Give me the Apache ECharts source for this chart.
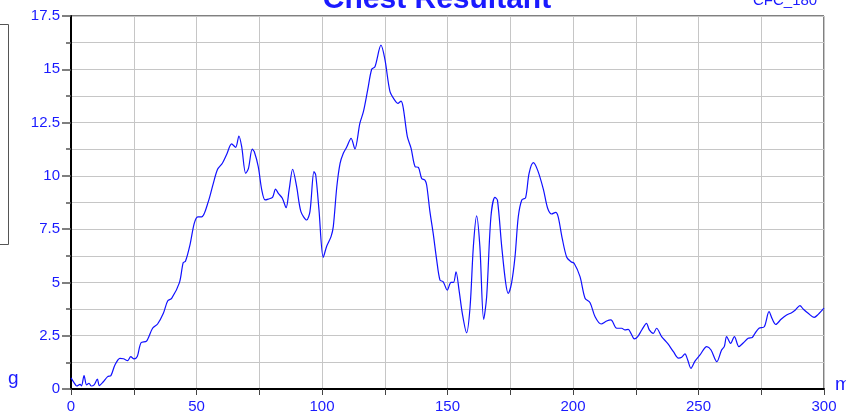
<!DOCTYPE html>
<html>
<head>
<meta charset="utf-8">
<script src="https://cdn.jsdelivr.net/npm/echarts@6/dist/echarts.min.js"></script>
<style>
  html, body { margin: 0; padding: 0; background: #fff; }
  #chestChart { width: 846px; height: 414px; }
</style>
</head>
<body>
<div id="chestChart"></div>
<script>
// time (ms) and chest resultant acceleration (g)
var timeMs = [0, 1.2, 2.3, 3.6, 4.2, 5.2, 6.2, 7.2, 8, 9.2, 10.5, 11.3, 12.9, 14.6, 15.9, 17.5, 19.5, 20.9, 22.6, 23.8,
  25.1, 26.4, 27.9, 30.1, 32.5, 34.5, 36.8, 38.5, 40.1, 43.2, 44.7, 45.6, 47.4, 49.1, 50.5, 52.1, 54.7, 56.7, 58.4, 60.3,
  62, 64, 65.6, 66.9, 68, 69.6, 70.7, 72.2, 73, 74.6, 76, 77.3, 78.6, 80.3, 81.5, 82.6, 84.2, 85.7, 86.9, 88.3,
  89.9, 91.6, 93.9, 95.2, 96.8, 97.5, 98.8, 100.5, 101.9, 103.6, 104.5, 105.9, 107.2, 108.5, 109.8, 111.6, 113.1, 115.1, 116.5, 118.2,
  119.8, 121.1, 123.5, 125.1, 127.1, 129.1, 130.2, 131.5, 132.4, 134, 135.5, 137.1, 138.4, 139.7, 141, 141.7, 143, 144.3, 145.7, 147,
  148.3, 149.9, 151.4, 152.4, 153.4, 154.6, 155.9, 157.6, 159, 160.3, 161.6, 162.9, 164.4, 165.6, 167.3, 168.9, 169.9, 171.6, 173.2, 174.2,
  175.5, 176.9, 178.2, 179.6, 181.1, 182.5, 184.2, 185.9, 188.2, 189.9, 191.5, 193.1, 194.1, 195.7, 197.5, 199.2, 200.5, 202.8, 204.8, 206.8,
  208.8, 211.2, 213.4, 215.1, 217.4, 219.4, 220.7, 222, 223.1, 224.4, 225.8, 227.4, 229.3, 230.4, 232, 233.3, 235.3, 237.7, 240, 242,
  243.3, 244.6, 245.7, 247, 248.6, 250.6, 253.3, 255, 257.3, 259.2, 260.3, 261.2, 262.8, 264.3, 266.1, 267.9, 269.8, 271.4, 272.5, 274.1,
  276.2, 278.1, 279.4, 280.8, 282.9, 285.1, 287.1, 288.7, 290.4, 291.8, 293.7, 296.1, 297.7, 300];
var accelG = [0.52, 0.3, 0.14, 0.22, 0.15, 0.63, 0.19, 0.27, 0.14, 0.19, 0.46, 0.16, 0.34, 0.58, 0.63, 1.13, 1.44, 1.42, 1.33, 1.52,
  1.41, 1.52, 2.17, 2.25, 2.85, 3.05, 3.55, 4.13, 4.25, 4.99, 5.93, 5.99, 6.76, 7.77, 8.08, 8.08, 8.79, 9.65, 10.31, 10.59,
  11.0, 11.5, 11.34, 11.87, 11.37, 10.12, 10.35, 11.25, 11.14, 10.43, 9.34, 8.87, 8.91, 8.99, 9.38, 9.18, 8.95, 8.51, 9.34, 10.31,
  9.49, 8.32, 7.93, 8.32, 10.2, 10.04, 8.4, 6.18, 6.71, 7.15, 7.62, 9.49, 10.59, 11.06, 11.34, 11.76, 11.26, 12.47, 13.01, 14.03,
  15.0, 15.12, 16.13, 15.44, 13.95, 13.53, 13.4, 13.51, 13.17, 11.84, 11.29, 10.43, 10.4, 9.88, 9.8, 9.57, 8.32, 7.3, 6.05, 5.11,
  5.03, 4.64, 5.0, 5.0, 5.5, 4.64, 3.55, 2.64, 3.86, 6.68, 8.12, 6.68, 3.27, 4.33, 8.08, 8.99, 8.86, 6.68, 4.96, 4.49,
  4.96, 6.21, 8.08, 8.87, 8.97, 10.12, 10.62, 10.27, 9.37, 8.48, 8.21, 8.29, 8.08, 7.07, 6.18, 5.97, 5.89, 5.27, 4.26, 4.05,
  3.39, 3.05, 3.19, 3.24, 2.85, 2.85, 2.77, 2.8, 2.61, 2.35, 2.46, 2.77, 3.08, 2.77, 2.61, 2.85, 2.46, 2.14, 1.75, 1.45,
  1.49, 1.65, 1.36, 0.97, 1.31, 1.6, 1.99, 1.83, 1.28, 1.83, 2.0, 2.46, 2.14, 2.46, 1.99, 2.17, 2.38, 2.42, 2.61, 2.85,
  2.92, 3.63, 3.28, 3.03, 3.27, 3.47, 3.58, 3.72, 3.91, 3.74, 3.55, 3.36, 3.5, 3.79];

var blue = '#1a1aff';
var gridGray = '#c6c6c6';

var chartData = timeMs.map(function (t, i) { return [t, accelG[i]]; });

var chestChart = echarts.init(document.getElementById('chestChart'), null, { renderer: 'canvas' });
chestChart.setOption({
  animation: false,
  backgroundColor: '#fff',
  grid: {
    left: 71,
    right: 22,
    top: 16,
    bottom: 25,
    show: true,
    borderColor: '#000',
    borderWidth: 1
  },
  graphic: [
    // clipped legend box on the left
    {
      type: 'rect',
      shape: { x: -10, y: 24.5, width: 18.5, height: 220 },
      style: { fill: '#fff', stroke: '#555', lineWidth: 1 }
    },
    {
      type: 'text',
      x: 437,
      y: 0,
      style: {
        text: 'Chest Resultant',
        font: 'bold 30px "Liberation Sans", Arial, sans-serif',
        fill: blue,
        align: 'center',
        verticalAlign: 'middle'
      }
    },
    {
      type: 'text',
      x: 753,
      y: 1,
      style: {
        text: 'CFC_180',
        font: '15px "Liberation Sans", Arial, sans-serif',
        fill: blue,
        align: 'left',
        verticalAlign: 'middle'
      }
    },
    {
      type: 'text',
      x: 8,
      y: 379,
      style: {
        text: 'g',
        font: '19px "Liberation Sans", Arial, sans-serif',
        fill: blue,
        align: 'left',
        verticalAlign: 'middle'
      }
    },
    {
      type: 'text',
      x: 835,
      y: 385,
      style: {
        text: 'ms',
        font: '19px "Liberation Sans", Arial, sans-serif',
        fill: blue,
        align: 'left',
        verticalAlign: 'middle'
      }
    }
  ],
  xAxis: {
    type: 'value',
    min: 0,
    max: 300,
    interval: 50,
    axisLine: { show: true, onZero: false, lineStyle: { color: '#000', width: 2 } },
    axisTick: { show: true, length: 6, lineStyle: { color: '#444', width: 1 } },
    minorTick: { show: true, splitNumber: 2, length: 6, lineStyle: { color: '#444', width: 1 } },
    splitLine: { show: true, lineStyle: { color: gridGray, width: 1 } },
    minorSplitLine: { show: true, lineStyle: { color: gridGray, width: 1 } },
    axisLabel: {
      color: blue,
      fontSize: 15,
      fontFamily: '"Liberation Sans", Arial, sans-serif',
      margin: 10,
      showMaxLabel: true,
      showMinLabel: true
    }
  },
  yAxis: {
    type: 'value',
    min: 0,
    max: 17.5,
    interval: 2.5,
    axisLine: { show: true, onZero: false, lineStyle: { color: '#000', width: 2 } },
    axisTick: { show: true, length: 9, lineStyle: { color: '#555', width: 1.5 } },
    minorTick: { show: true, splitNumber: 2, length: 5, lineStyle: { color: '#555', width: 1.5 } },
    splitLine: { show: true, lineStyle: { color: gridGray, width: 1 } },
    minorSplitLine: { show: true, lineStyle: { color: gridGray, width: 1 } },
    axisLabel: {
      color: blue,
      fontSize: 15,
      fontFamily: '"Liberation Sans", Arial, sans-serif',
      margin: 11
    }
  },
  series: [
    {
      name: 'Chest Resultant',
      type: 'line',
      data: chartData,
      showSymbol: false,
      smooth: 0.3,
      lineStyle: { color: '#1010ff', width: 1.2 },
      silent: true
    }
  ]
});
</script>
</body>
</html>
